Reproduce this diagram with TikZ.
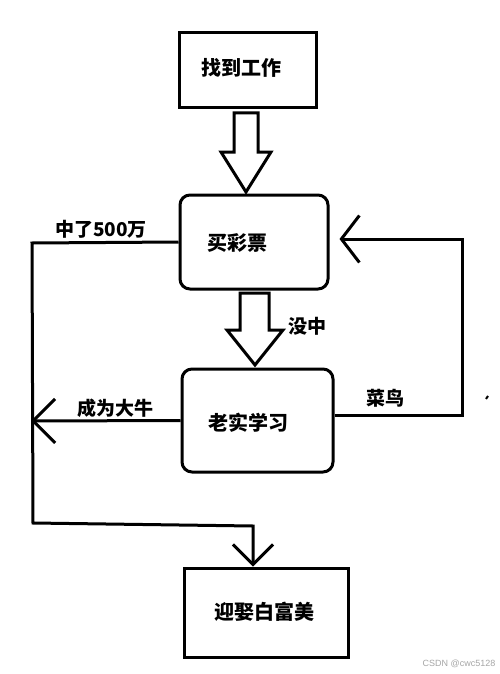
\documentclass[tikz,border=0pt]{standalone}
\usepackage{fontspec}
\newfontfamily\cjk{Noto Sans CJK SC}
\newfontfamily\wm{Liberation Sans}
\usetikzlibrary{arrows.meta,calc}
\tikzset{
  box/.style={draw, line width=3pt, inner sep=0pt},
  rbox/.style={box, rounded corners=10pt},
  txt/.style={font=\cjk\bfseries\fontsize{20pt}{22pt}\selectfont, inner sep=0pt},
  lbl/.style={font=\cjk\bfseries\fontsize{19pt}{21pt}\selectfont, inner sep=0pt},
  conn/.style={line width=3pt, line join=miter},
  hollow/.style={draw, line width=3pt, line join=miter, fill=white},
}
\begin{document}
\begin{tikzpicture}[x=1pt,y=-1pt]
\useasboundingbox[fill=white] (0,0) rectangle (500,674);
% boxes
\node[box, minimum width=137pt, minimum height=75pt] (b1) at (247.5,70) {};
\node[rbox, minimum width=148pt, minimum height=94pt] (b2) at (254,242) {};
\node[rbox, minimum width=151pt, minimum height=103pt] (b3) at (257.5,420.5) {};
\node[box, minimum width=164pt, minimum height=89pt] (b4) at (266,612.5) {};
% box texts
\node[txt] (t1) at (241,68) {找到工作};
\node[txt] (t2) at (237,243) {买彩票};
\node[txt] (t3) at (248,423) {老实学习};
\node[txt] (t4) at (264,612) {迎娶白富美};
% hollow arrows
\draw[hollow] (234,113) -- (258,113) -- (258,152) -- (271,152) -- (246,192) -- (221,152) -- (234,152) -- cycle;
\draw[hollow] (240,293) -- (269,293) -- (269,330) -- (283,330) -- (255,365) -- (227,330) -- (240,330) -- cycle;
% connector coordinates
\coordinate (c1) at (32,243);
\coordinate (c2) at (33,523);
\coordinate (c3) at (253,526);
\coordinate (j1) at (31,421);
\coordinate (c4) at (462,415);
\coordinate (c5) at (462,239);
% connectors
\draw[conn, -{Straight Barb[length=20pt,width=40pt,line width=3pt]}] (b2.west) -- (c1) -- (c2) -- (c3) -- (c3 |- b4.north);
\draw[conn, -{Straight Barb[length=22pt,width=44pt,line width=3pt]}] (b3.west) -- (j1);
\draw[conn, shorten >=10pt, -{Straight Barb[length=18pt,width=47pt,line width=3pt]}] (b3.east |- c4) -- (c4) -- (c5) -- (b2.east |- c5);
% labels
\node[lbl] (l1) at (101,229) {中了500万};
\node[lbl] (l2) at (115,408) {成为大牛};
\node[lbl] (l3) at (307,326) {没中};
\node[lbl] (l4) at (385,398) {菜鸟};
% stray mark
\draw[line width=2pt] (486,399) -- (488,396);
% watermark
\node[font=\wm\fontsize{9pt}{10pt}\selectfont, text=black!35, inner sep=0pt] (wm) at (459,664) {CSDN @cwc5128};
\end{tikzpicture}
\end{document}
